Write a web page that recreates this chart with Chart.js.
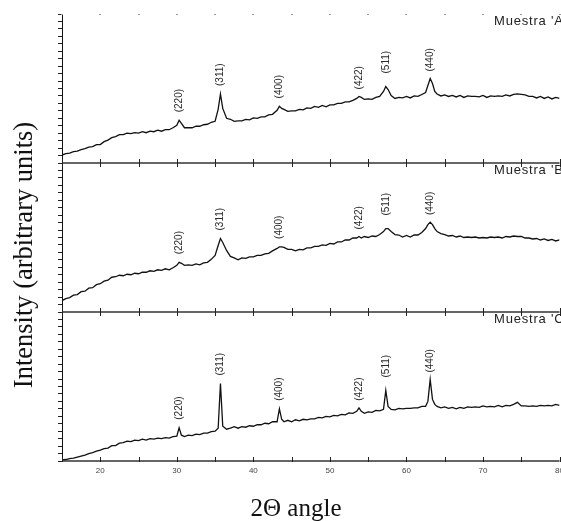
<!DOCTYPE html>
<html lang="es">
<head>
<meta charset="UTF-8">
<title>Difractogramas XRD</title>
<script src="https://cdn.jsdelivr.net/npm/chart.js@4.4.0/dist/chart.umd.min.js"></script>
<style>
    html, body {
        margin: 0;
        padding: 0;
        overflow: hidden;
        background: #fff;
    }
    #xrd {
        display: block;
    }
</style>
</head>
<body>
<canvas id="xrd" width="570" height="521"></canvas>
<script>
// 2θ positions (degrees), shared by the three patterns
var angles = [
    15, 15.5, 16, 16.5, 17, 17.5, 18, 18.5, 19, 19.5,
    20, 20.5, 21, 21.5, 22, 22.5, 23, 23.5, 24, 24.5,
    25, 25.5, 26, 26.5, 27, 27.5, 28, 28.5, 29, 29.5,
    30, 30.3, 30.6, 31, 31.5, 32, 32.5, 33, 33.5, 34,
    34.5, 35, 35.4, 35.7, 36, 36.5, 37, 37.5, 38, 38.5,
    39, 39.5, 40, 40.5, 41, 41.5, 42, 42.5, 43.1, 43.4,
    43.7, 44, 44.5, 45, 45.5, 46, 46.5, 47, 47.5, 48,
    48.5, 49, 49.5, 50, 50.5, 51, 51.5, 52, 52.5, 53,
    53.5, 53.8, 54.1, 54.5, 55, 55.5, 56, 56.5, 57, 57.3,
    57.6, 58, 58.5, 59, 59.5, 60, 60.5, 61, 61.5, 62,
    62.5, 62.8, 63.1, 63.4, 63.7, 64, 64.5, 65, 65.5, 66,
    66.5, 67, 67.5, 68, 68.5, 69, 69.5, 70, 70.5, 71,
    71.5, 72, 72.5, 73, 73.5, 74, 74.5, 75, 75.5, 76,
    76.5, 77, 77.5, 78, 78.5, 79, 79.5, 80
];

// intensities (arbitrary units)
var sampleA = [
    8, 9.5, 10, 11.5, 12, 13.5, 14.5, 16, 16.5, 18.5,
    18.5, 21.5, 23, 25.5, 26.5, 28.5, 28.5, 30, 29.5, 30.5,
    30, 31.5, 30.5, 32, 31.5, 33, 32, 33.5, 33.5, 35.5,
    38, 43, 40, 35.5, 35.5, 35.5, 37, 37, 38.5, 39,
    41, 42, 54, 69.5, 55, 45, 44, 42, 42.5, 42.5,
    44, 43.5, 45.5, 45, 46.5, 46.5, 48.5, 49, 53, 57,
    55, 54, 52, 52.5, 52.5, 54, 53.5, 55.5, 55, 57,
    56, 58, 56.5, 58.5, 58.5, 60, 60, 61.5, 61.5, 63,
    65, 67, 66, 64, 64.5, 64, 66, 67, 72, 77,
    74, 68, 65, 66, 65.5, 67, 65.5, 67.5, 67, 69,
    71, 78, 85, 80, 72, 69.5, 67.5, 68.5, 67, 68,
    66.5, 68, 66, 67.5, 67, 67, 66.5, 68, 66, 67.5,
    67, 67.5, 67, 68.5, 67.5, 69, 69.5, 69, 68.5, 67,
    67, 65.5, 67, 65, 66.5, 64.5, 66, 65
];

var sampleB = [
    11.5, 13.5, 14.5, 17, 17.5, 20.5, 21, 24, 24.5, 27.5,
    28.5, 31, 32, 35, 35.5, 37, 36.5, 38, 37.5, 39,
    38.5, 40, 40, 41.5, 41, 42.5, 42, 43.5, 42.5, 44.5,
    47, 50, 49, 47, 47.5, 47, 48.5, 47.5, 49.5, 50,
    53, 57, 67, 74, 70, 62, 56, 54.5, 52.5, 54.5,
    54, 55.5, 55.5, 57, 57, 58.5, 59, 61.5, 64, 65.5,
    65.5, 65, 63, 63, 61.5, 63, 62.5, 64.5, 64.5, 66,
    66, 67.5, 67, 69, 68.5, 70.5, 70.5, 72.5, 72.5, 74.5,
    74.5, 76, 74.5, 76, 75, 76.5, 76, 78, 81, 84,
    84, 81, 78, 77.5, 75.5, 77, 75.5, 77.5, 77.5, 80,
    84, 88, 90.5, 88, 84, 81, 79, 78, 76.5, 77,
    75.5, 76.5, 75, 75.5, 75, 75.5, 74.5, 75, 74.5, 75.5,
    75, 75.5, 74.5, 76, 75.5, 76.5, 76, 76, 74.5, 74.5,
    73.5, 74, 72.5, 73.5, 72, 73, 71.5, 72.5
];

var sampleC = [
    1, 1.5, 2.5, 3, 4, 5, 6, 7.5, 8.5, 10,
    11, 12.5, 13, 15.5, 15.5, 18, 18.5, 20, 19.5, 21,
    20.5, 22, 21, 22.5, 22, 23, 22.5, 23.5, 23, 24.5,
    25, 33.5, 26, 24.5, 26, 25.5, 27, 26.5, 28, 28,
    29.5, 30, 33, 78, 35, 32, 33, 34.5, 33, 34.5,
    34, 35.5, 35, 36.5, 36.5, 38, 37.5, 39.5, 39.5, 52.5,
    42, 39.5, 41, 39.5, 41.5, 40.5, 42, 41.5, 42.5, 42.5,
    44, 43.5, 45, 44.5, 46, 45.5, 47, 46.5, 48.5, 48,
    50, 53.5, 50, 48, 49.5, 49, 51, 50.5, 52, 71,
    55, 52, 51.5, 53, 52.5, 53, 53, 53.5, 53.5, 55,
    55, 60, 82, 62, 57, 55, 53.5, 54.5, 53, 54,
    52.5, 54, 53, 54.5, 54, 54.5, 54, 55.5, 54.5, 55,
    54.5, 56, 54.5, 56, 55.5, 57, 59, 55.5, 55.5, 55,
    55.5, 55, 56, 55.5, 56, 55.5, 57, 56
];

var sampleNames = ["Muestra 'A'", "Muestra 'B'", "Muestra 'C'"];
var peakAngles = [30.3, 35.7, 43.4, 53.8, 57.3, 63.1];
var peakLabels = ['(220)', '(311)', '(400)', '(422)', '(511)', '(440)'];
var angleTicks = [20, 30, 40, 50, 60, 70, 80];
var frameTicks = [15, 20, 25, 30, 35, 40, 45, 50, 55, 60, 65, 70, 75, 80];

// how far each reflection label sits above its peak, px
var peakLift = [8, 8, 8, 7, 13, 7];

function series(values) {
    return angles.map(function (a, i) {
        return { x: a, y: values[i] };
    });
}

function panelAxis(weight) {
    return {
        type: 'linear',
        position: 'left',
        stack: 'panels',
        stackWeight: 1,
        weight: weight,
        min: 0,
        max: 150,
        ticks: { display: false, stepSize: 7.5 },
        grid: { drawOnChartArea: false, drawTicks: true, tickLength: 4, color: '#222', lineWidth: 1 },
        border: { display: true, color: '#111', width: 1 }
    };
}

var framePlugin = {
    id: 'frame',
    afterDatasetsDraw: function (chart) {
        var ctx = chart.ctx;
        var area = chart.chartArea;
        var x = chart.scales.x;
        var panels = [chart.scales.yA, chart.scales.yB, chart.scales.yC];
        ctx.save();

        // top edge: only faint tick marks
        ctx.fillStyle = '#9a9a9a';
        frameTicks.forEach(function (t) {
            var px = Math.round(x.getPixelForValue(t));
            ctx.fillRect(px - 1, area.top, 2, 1);
        });

        // panel separators and bottom axis
        ctx.strokeStyle = '#333';
        ctx.lineWidth = 1.6;
        var edges = [panels[0].bottom, panels[1].bottom, area.bottom];
        edges.forEach(function (yy) {
            ctx.beginPath();
            ctx.moveTo(area.left, yy);
            ctx.lineTo(area.right, yy);
            ctx.stroke();
        });

        ctx.lineWidth = 1;
        ctx.strokeStyle = '#222';
        frameTicks.forEach(function (t) {
            var px = Math.round(x.getPixelForValue(t)) + 0.5;
            ctx.beginPath();
            edges.forEach(function (yy, k) {
                ctx.moveTo(px, yy - 4);
                ctx.lineTo(px, k < 2 ? yy + 4 : yy + 1);
            });
            ctx.stroke();
        });

        // reflection labels above the peaks
        ctx.fillStyle = '#2a2a2a';
        ctx.font = '10px "Liberation Sans", Arial, sans-serif';
        ctx.textAlign = 'left';
        ctx.textBaseline = 'middle';
        panels.forEach(function (scale, p) {
            var pts = chart.data.datasets[p].data;
            peakAngles.forEach(function (a, k) {
                var i = angles.indexOf(a);
                var px = x.getPixelForValue(a);
                var py = scale.getPixelForValue(pts[i].y) - peakLift[k];
                ctx.save();
                ctx.translate(px, py);
                ctx.rotate(-Math.PI / 2);
                ctx.fillText(peakLabels[k], 0, 0);
                ctx.restore();
            });
        });

        // sample names, top right of each panel
        ctx.fillStyle = '#222';
        ctx.font = '13px "Liberation Sans", Arial, sans-serif';
        ctx.textBaseline = 'alphabetic';
        if ('letterSpacing' in ctx) ctx.letterSpacing = '0.8px';
        panels.forEach(function (scale, p) {
            ctx.fillText(sampleNames[p], 494, scale.top + 11);
        });
        if ('letterSpacing' in ctx) ctx.letterSpacing = '0px';

        // axis titles
        ctx.fillStyle = '#111';
        ctx.textAlign = 'center';
        ctx.font = '25px "Liberation Serif", "Times New Roman", serif';
        ctx.fillText('2\u0398 angle', 296, 516);

        ctx.font = '26.5px "Liberation Serif", "Times New Roman", serif';
        ctx.translate(32, 255);
        ctx.rotate(-Math.PI / 2);
        ctx.fillText('Intensity (arbitrary units)', 0, 0);

        ctx.restore();
    }
};

var ctx = document.getElementById('xrd').getContext('2d');
var xrdChart = new Chart(ctx, {
    type: 'line',
    data: {
        datasets: [
            { label: sampleNames[0], data: series(sampleA), yAxisID: 'yA' },
            { label: sampleNames[1], data: series(sampleB), yAxisID: 'yB' },
            { label: sampleNames[2], data: series(sampleC), yAxisID: 'yC' }
        ]
    },
    options: {
        responsive: false,
        animation: false,
        devicePixelRatio: 1,
        layout: { padding: { left: 58, right: 7, top: 14, bottom: 40 } },
        elements: {
            line: { borderColor: '#111', borderWidth: 1.3, tension: 0 },
            point: { radius: 0 }
        },
        plugins: {
            legend: { display: false },
            tooltip: { enabled: false }
        },
        scales: {
            x: {
                type: 'linear',
                min: 15,
                max: 80,
                afterBuildTicks: function (scale) {
                    scale.ticks = angleTicks.map(function (v) { return { value: v }; });
                },
                ticks: {
                    autoSkip: false,
                    maxRotation: 0,
                    padding: 6,
                    color: '#444',
                    font: { family: '"Liberation Sans", Arial, sans-serif', size: 8, lineHeight: 1 }
                },
                grid: { display: false, drawTicks: false },
                border: { display: false }
            },
            yA: panelAxis(3),
            yB: panelAxis(2),
            yC: panelAxis(1)
        }
    },
    plugins: [framePlugin]
});
</script>
</body>
</html>
